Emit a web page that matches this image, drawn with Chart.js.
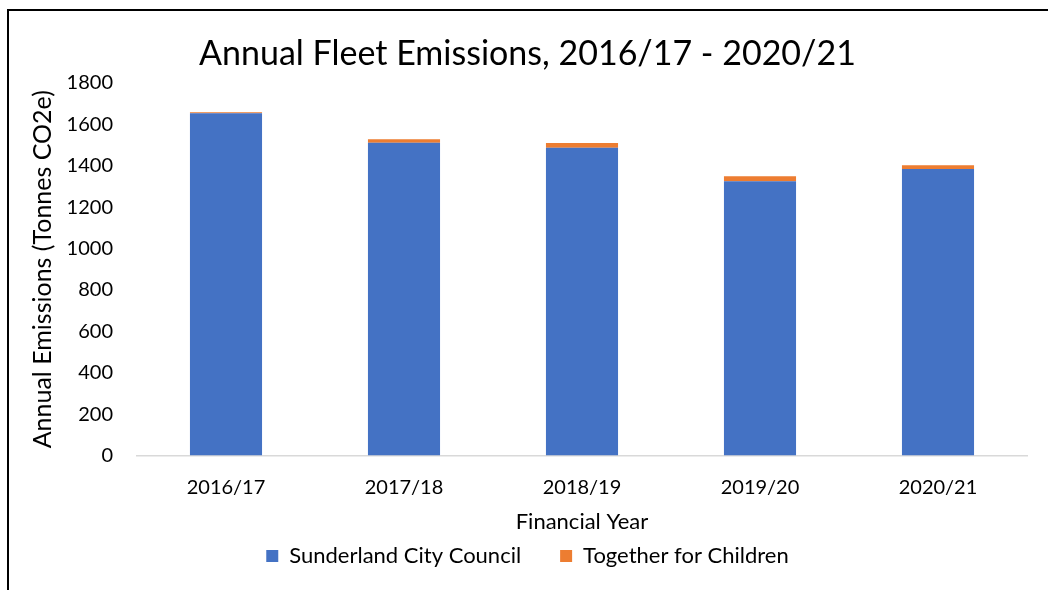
<!DOCTYPE html>
<html>
<head>
<meta charset="utf-8">
<script src="https://cdn.jsdelivr.net/npm/chart.js@4/dist/chart.umd.min.js"></script>
<style>
  html, body { margin: 0; padding: 0; background: #fff; overflow: hidden; }
  #wrap { position: relative; width: 1048px; height: 590px; }
  #frame {
    position: absolute; left: 7px; top: 9px; width: 1200px; height: 800px;
    border-left: 2px solid #000; border-top: 2px solid #000;
  }
  canvas { position: absolute; left: 0; top: 0; }
</style>
</head>
<body>
<div id="wrap">
  <div id="frame"></div>
  <canvas id="fleetChart" width="1048" height="590"></canvas>
</div>
<script>
// financial years and emissions (tonnes CO2e)
const years = ["2016/17", "2017/18", "2018/19", "2019/20", "2020/21"];
const councilEmissions = [1653, 1510, 1486, 1325, 1384];
const childrenEmissions = [5, 18, 23, 24, 18];
const yTicks = [0, 200, 400, 600, 800, 1000, 1200, 1400, 1600, 1800];

const FONT = "Lato, 'Noto Sans', sans-serif";

const ctx = document.getElementById("fleetChart").getContext("2d");

new Chart(ctx, {
  type: "bar",
  data: {
    labels: years,
    datasets: [
      {
        label: "Sunderland City Council",
        data: councilEmissions,
        backgroundColor: "#4472C4",
        borderWidth: 0,
      },
      {
        label: "Together for Children",
        data: childrenEmissions,
        backgroundColor: "#ED7D31",
        borderWidth: 0,
      },
    ],
  },
  options: {
    responsive: false,
    animation: false,
    layout: { padding: { left: 28, right: 21, top: 34, bottom: 13 } },
    datasets: {
      bar: { categoryPercentage: 1, barPercentage: 0.405 },
    },
    scales: {
      x: {
        stacked: true,
        grid: { display: false },
        border: { color: "#d9d9d9", width: 1.5 },
        ticks: { color: "#000", font: { family: FONT, size: 20 }, padding: 12 },
        title: {
          display: true,
          text: "Financial Year",
          color: "#000",
          font: { family: FONT, size: 22 },
          // pull the axis title down towards the legend
          padding: { top: -3, bottom: -29 },
        },
      },
      y: {
        stacked: true,
        min: 0,
        max: 1800,
        afterBuildTicks: (scale) => {
          scale.ticks = yTicks.map((v) => ({ value: v }));
        },
        afterFit: (scale) => {
          scale.width = 109;
        },
        grid: { display: false },
        border: { display: false },
        ticks: {
          color: "#000",
          font: { family: FONT, size: 20 },
          padding: 16,
          callback: (value) => String(value),
        },
        title: {
          display: true,
          text: "Annual Emissions (Tonnes CO2e)",
          color: "#000",
          font: { family: FONT, size: 25 },
          padding: { top: 0, bottom: 0 },
        },
      },
    },
    plugins: {
      title: {
        display: true,
        text: "Annual Fleet Emissions, 2016/17 - 2020/21",
        color: "#000",
        font: { family: FONT, size: 34, weight: "normal" },
        padding: { top: 0, bottom: 8 },
      },
      legend: {
        position: "bottom",
        labels: {
          color: "#000",
          font: { family: FONT, size: 22 },
          boxWidth: 12,
          boxHeight: 12,
          padding: 39,
        },
      },
      tooltip: { enabled: false },
    },
  },
});
</script>
</body>
</html>
